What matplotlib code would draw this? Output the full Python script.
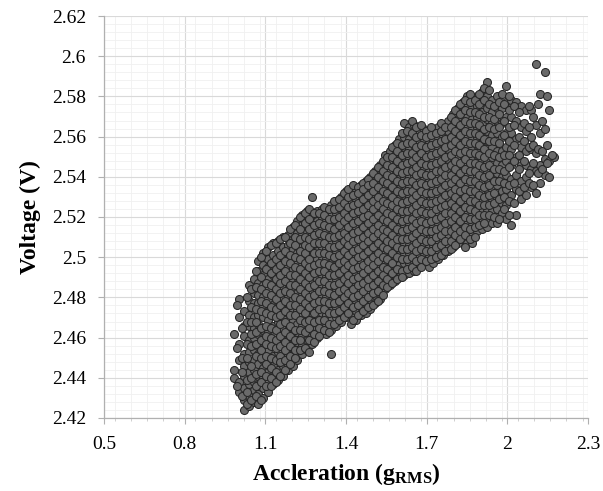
import numpy as np
import matplotlib.pyplot as plt
from matplotlib.ticker import MultipleLocator

# acceleration (gRMS) of each column of points
accel_cols = [0.984, 1.003, 1.020, 1.039, 1.057, 1.074, 1.093, 1.110, 1.129, 1.146,
              1.165, 1.183, 1.202, 1.219, 1.238, 1.256, 1.273, 1.292, 1.310, 1.327,
              1.346, 1.364, 1.382, 1.400, 1.419, 1.436, 1.455, 1.473, 1.490, 1.509,
              1.527, 1.544, 1.562, 1.581, 1.598, 1.617, 1.635, 1.653, 1.671, 1.689,
              1.708, 1.725, 1.744, 1.762, 1.779, 1.798, 1.816, 1.834, 1.852, 1.870,
              1.887, 1.906, 1.923, 1.942, 1.960, 1.979, 1.997, 2.015, 2.034, 2.052,
              2.070, 2.088, 2.106, 2.122, 2.140, 2.157, 2.174]

# voltage of the points in each column, in mV
voltage_cols_mv = [
    [2462, 2444, 2440],
    [2479, 2470, 2457, 2449, 2438, 2433],
    [2473, 2466, 2461, 2452, 2446, 2441, 2435, 2429, 2424],
    [2486, 2478, 2471, 2466, 2459, 2453, 2448, 2443, 2437, 2431, 2426],
    [2489, 2482, 2477, 2470, 2465, 2460, 2454, 2449, 2444, 2438, 2434, 2428],
    [2498, 2493, 2487, 2481, 2477, 2471, 2467, 2462, 2456, 2452, 2447, 2441, 2437, 2432, 2427],
    [2502, 2496, 2491, 2486, 2480, 2475, 2470, 2464, 2460, 2455, 2449, 2445, 2440, 2435, 2430],
    [2505, 2499, 2495, 2489, 2484, 2479, 2473, 2469, 2463, 2458, 2454, 2448, 2443, 2439, 2433],
    [2507, 2501, 2496, 2491, 2487, 2481, 2476, 2471, 2466, 2461, 2456, 2451, 2446, 2441, 2437],
    [2508, 2503, 2499, 2493, 2488, 2484, 2478, 2473, 2468, 2464, 2458, 2453, 2449, 2444, 2439],
    [2510, 2505, 2499, 2495, 2490, 2485, 2480, 2474, 2470, 2465, 2460, 2456, 2450, 2446, 2441],
    [2511, 2506, 2502, 2496, 2491, 2487, 2481, 2477, 2472, 2467, 2462, 2457, 2452, 2447, 2444],
    [2515, 2509, 2504, 2499, 2494, 2489, 2484, 2479, 2474, 2469, 2465, 2460, 2455, 2450, 2446],
    [2518, 2512, 2507, 2502, 2497, 2492, 2487, 2482, 2477, 2473, 2467, 2463, 2458, 2453, 2449],
    [2521, 2516, 2511, 2505, 2500, 2496, 2490, 2486, 2481, 2476, 2471, 2466, 2461, 2457, 2452],
    [2523, 2518, 2513, 2508, 2503, 2498, 2493, 2488, 2484, 2479, 2474, 2469, 2464, 2459, 2454],
    [2530, 2521, 2516, 2511, 2506, 2501, 2497, 2491, 2487, 2482, 2477, 2472, 2467, 2462, 2457],
    [2523, 2518, 2513, 2509, 2503, 2499, 2494, 2489, 2484, 2479, 2475, 2470, 2465, 2460],
    [2524, 2519, 2515, 2510, 2505, 2500, 2496, 2491, 2486, 2481, 2477, 2472, 2467, 2463],
    [2523, 2518, 2513, 2509, 2504, 2499, 2494, 2490, 2485, 2480, 2475, 2471, 2466, 2462],
    [2526, 2521, 2516, 2511, 2507, 2502, 2497, 2492, 2488, 2483, 2478, 2473, 2469, 2464, 2452],
    [2527, 2522, 2518, 2513, 2508, 2503, 2499, 2494, 2489, 2484, 2480, 2475, 2470, 2466],
    [2530, 2524, 2519, 2515, 2510, 2505, 2500, 2496, 2491, 2486, 2482, 2477, 2472, 2468],
    [2533, 2527, 2522, 2517, 2512, 2507, 2503, 2498, 2493, 2488, 2484, 2479, 2474, 2470],
    [2532, 2528, 2523, 2518, 2514, 2509, 2504, 2499, 2495, 2490, 2485, 2481, 2476, 2471, 2467],
    [2534, 2529, 2524, 2520, 2515, 2510, 2506, 2501, 2496, 2492, 2487, 2482, 2478, 2473, 2469],
    [2536, 2531, 2526, 2521, 2517, 2512, 2507, 2503, 2498, 2493, 2489, 2484, 2479, 2475, 2471],
    [2538, 2533, 2528, 2523, 2519, 2514, 2509, 2505, 2500, 2495, 2491, 2486, 2481, 2477, 2472],
    [2540, 2535, 2530, 2526, 2521, 2516, 2511, 2507, 2502, 2497, 2493, 2488, 2483, 2479, 2474],
    [2543, 2538, 2533, 2528, 2523, 2519, 2514, 2509, 2504, 2500, 2495, 2490, 2486, 2481, 2477],
    [2546, 2541, 2536, 2531, 2526, 2522, 2517, 2512, 2507, 2503, 2498, 2493, 2489, 2484, 2479],
    [2551, 2545, 2540, 2535, 2530, 2525, 2520, 2516, 2511, 2506, 2502, 2497, 2492, 2488, 2484],
    [2553, 2548, 2543, 2538, 2533, 2528, 2524, 2519, 2514, 2509, 2505, 2500, 2495, 2491, 2486],
    [2556, 2551, 2546, 2541, 2536, 2531, 2526, 2522, 2517, 2512, 2508, 2503, 2498, 2493, 2488],
    [2559, 2554, 2549, 2544, 2539, 2534, 2529, 2525, 2520, 2515, 2510, 2506, 2501, 2496, 2490],
    [2567, 2560, 2555, 2550, 2545, 2540, 2536, 2531, 2526, 2521, 2516, 2512, 2507, 2502, 2497, 2491],
    [2565, 2559, 2554, 2549, 2545, 2540, 2535, 2530, 2525, 2521, 2516, 2511, 2506, 2502, 2497, 2492],
    [2566, 2561, 2556, 2551, 2546, 2541, 2537, 2532, 2527, 2522, 2517, 2513, 2508, 2503, 2498, 2493],
    [2563, 2558, 2553, 2548, 2544, 2539, 2534, 2529, 2524, 2520, 2515, 2510, 2505, 2501, 2496],
    [2564, 2559, 2555, 2550, 2545, 2540, 2535, 2531, 2526, 2521, 2516, 2512, 2507, 2502, 2497],
    [2562, 2557, 2552, 2548, 2543, 2538, 2533, 2528, 2524, 2519, 2514, 2509, 2505, 2500, 2495],
    [2563, 2558, 2554, 2549, 2544, 2539, 2534, 2530, 2525, 2520, 2515, 2511, 2506, 2501, 2497],
    [2565, 2560, 2555, 2550, 2546, 2541, 2536, 2531, 2527, 2522, 2517, 2512, 2508, 2503, 2499],
    [2566, 2561, 2557, 2552, 2547, 2542, 2538, 2533, 2528, 2523, 2519, 2514, 2509, 2505, 2501],
    [2568, 2563, 2558, 2554, 2549, 2544, 2539, 2535, 2530, 2525, 2520, 2516, 2511, 2506, 2503],
    [2571, 2566, 2561, 2556, 2551, 2547, 2542, 2537, 2532, 2528, 2523, 2518, 2514, 2509, 2505],
    [2574, 2569, 2564, 2559, 2554, 2550, 2545, 2540, 2535, 2531, 2526, 2521, 2516, 2512, 2507],
    [2577, 2572, 2567, 2562, 2557, 2552, 2548, 2543, 2538, 2533, 2529, 2524, 2519, 2514, 2510],
    [2580, 2575, 2570, 2565, 2560, 2555, 2550, 2546, 2541, 2536, 2531, 2527, 2522, 2517, 2512, 2507],
    [2579, 2574, 2569, 2564, 2559, 2554, 2549, 2545, 2540, 2535, 2530, 2526, 2521, 2516, 2512, 2507],
    [2580, 2575, 2570, 2565, 2560, 2556, 2551, 2546, 2541, 2537, 2532, 2527, 2522, 2518, 2513],
    [2582, 2577, 2572, 2567, 2562, 2557, 2552, 2548, 2543, 2538, 2533, 2528, 2524, 2519, 2514],
    [2587, 2580, 2574, 2569, 2563, 2558, 2553, 2548, 2543, 2539, 2534, 2529, 2524, 2519, 2515],
    [2578, 2572, 2567, 2561, 2555, 2550, 2545, 2540, 2534, 2529, 2523, 2517],
    [2580, 2574, 2568, 2562, 2553, 2547, 2542, 2536, 2530, 2524, 2517],
    [2581, 2574, 2567, 2560, 2553, 2546, 2540, 2533, 2527, 2522],
    [2585, 2577, 2570, 2562, 2555, 2548, 2541, 2534, 2526, 2519],
    [2578, 2570, 2562, 2554, 2546, 2539, 2531, 2516],
    [2577, 2568, 2559, 2550, 2541, 2534, 2521],
    [2575, 2565, 2555, 2546, 2538, 2529],
    [2573, 2563, 2553, 2546, 2540, 2531],
    [2573, 2560, 2554, 2544, 2535],
    [2596, 2566, 2552, 2543, 2532],
    [2581, 2562, 2546, 2537],
    [2592, 2564, 2549, 2541],
    [2573, 2548, 2540],
    [2550],
]

# second set of columns lying between the first ones
accel_cols_b = [0.994, 1.012, 1.030, 1.048, 1.066, 1.084, 1.102, 1.120, 1.138, 1.156,
                1.174, 1.192, 1.210, 1.228, 1.246, 1.264, 1.282, 1.300, 1.318, 1.336,
                1.355, 1.373, 1.391, 1.409, 1.427, 1.446, 1.464, 1.482, 1.500, 1.518,
                1.536, 1.553, 1.571, 1.590, 1.608, 1.626, 1.644, 1.662, 1.680, 1.698,
                1.716, 1.734, 1.753, 1.770, 1.789, 1.807, 1.825, 1.843, 1.861, 1.879,
                1.896, 1.914, 1.932, 1.951, 1.969, 1.988, 2.006, 2.024, 2.043, 2.061,
                2.079, 2.097, 2.115, 2.131, 2.148, 2.166]

voltage_cols_b_mv = [
    [2476, 2455, 2436],
    [2465, 2450, 2443, 2431],
    [2480, 2468, 2457, 2450, 2439, 2433, 2427],
    [2484, 2475, 2468, 2462, 2456, 2446, 2440, 2429],
    [2493, 2485, 2474, 2468, 2463, 2457, 2451, 2442, 2436, 2431],
    [2500, 2490, 2484, 2478, 2473, 2465, 2459, 2454, 2450, 2443, 2438, 2429],
    [2503, 2494, 2487, 2482, 2477, 2472, 2466, 2461, 2457, 2451, 2447, 2441, 2436],
    [2506, 2497, 2492, 2486, 2481, 2475, 2471, 2465, 2460, 2456, 2450, 2445, 2440, 2436],
    [2507, 2499, 2494, 2489, 2484, 2479, 2474, 2470, 2464, 2459, 2455, 2449, 2443, 2438],
    [2509, 2501, 2496, 2491, 2487, 2482, 2476, 2471, 2467, 2461, 2456, 2451, 2448, 2441],
    [2510, 2503, 2498, 2493, 2488, 2483, 2478, 2473, 2468, 2463, 2458, 2454, 2449, 2444],
    [2514, 2507, 2501, 2497, 2491, 2486, 2482, 2476, 2471, 2466, 2461, 2456, 2451, 2447],
    [2516, 2510, 2506, 2500, 2495, 2491, 2486, 2480, 2476, 2471, 2464, 2459, 2454, 2450],
    [2520, 2514, 2509, 2503, 2499, 2494, 2489, 2484, 2479, 2474, 2469, 2464, 2459, 2454],
    [2522, 2517, 2510, 2506, 2502, 2497, 2492, 2487, 2482, 2477, 2472, 2468, 2463, 2455],
    [2524, 2519, 2514, 2509, 2505, 2499, 2495, 2490, 2485, 2480, 2475, 2469, 2465, 2459, 2453],
    [2522, 2516, 2511, 2507, 2502, 2496, 2492, 2486, 2481, 2477, 2472, 2468, 2462, 2458],
    [2522, 2517, 2512, 2507, 2502, 2497, 2493, 2488, 2483, 2478, 2474, 2469, 2465, 2461],
    [2525, 2521, 2516, 2511, 2507, 2502, 2497, 2493, 2488, 2483, 2478, 2474, 2469, 2464],
    [2524, 2519, 2515, 2510, 2505, 2501, 2496, 2491, 2486, 2482, 2477, 2472, 2467, 2463],
    [2528, 2524, 2519, 2514, 2510, 2505, 2500, 2495, 2491, 2486, 2481, 2477, 2472, 2467],
    [2529, 2525, 2520, 2516, 2511, 2506, 2501, 2497, 2492, 2487, 2483, 2478, 2473, 2469],
    [2532, 2527, 2522, 2518, 2512, 2508, 2503, 2498, 2494, 2489, 2484, 2480, 2475, 2470],
    [2534, 2530, 2525, 2520, 2515, 2510, 2506, 2501, 2496, 2491, 2487, 2482, 2477, 2472],
    [2536, 2531, 2526, 2522, 2517, 2512, 2508, 2503, 2498, 2494, 2489, 2484, 2480, 2475, 2469],
    [2535, 2532, 2527, 2523, 2518, 2513, 2509, 2504, 2500, 2495, 2490, 2486, 2481, 2476, 2471],
    [2537, 2534, 2529, 2524, 2520, 2515, 2510, 2506, 2501, 2496, 2492, 2487, 2483, 2478, 2473],
    [2539, 2536, 2531, 2526, 2521, 2517, 2512, 2508, 2503, 2498, 2494, 2489, 2485, 2480, 2475],
    [2542, 2537, 2533, 2528, 2524, 2519, 2514, 2510, 2505, 2500, 2496, 2491, 2486, 2482, 2476],
    [2545, 2540, 2535, 2530, 2526, 2521, 2516, 2512, 2507, 2502, 2498, 2493, 2488, 2483, 2478],
    [2548, 2543, 2538, 2533, 2528, 2524, 2519, 2514, 2510, 2505, 2500, 2495, 2491, 2486, 2481],
    [2550, 2546, 2541, 2537, 2532, 2527, 2522, 2518, 2513, 2508, 2504, 2499, 2494, 2489, 2485],
    [2555, 2550, 2545, 2540, 2535, 2530, 2526, 2521, 2516, 2511, 2507, 2502, 2497, 2492, 2487],
    [2557, 2553, 2548, 2543, 2538, 2533, 2528, 2524, 2519, 2514, 2509, 2505, 2500, 2494, 2489],
    [2562, 2556, 2551, 2546, 2542, 2537, 2532, 2527, 2523, 2518, 2513, 2509, 2504, 2499, 2493, 2490],
    [2563, 2557, 2552, 2547, 2543, 2538, 2533, 2528, 2523, 2519, 2514, 2509, 2504, 2499, 2494],
    [2568, 2562, 2557, 2552, 2548, 2543, 2538, 2533, 2529, 2524, 2519, 2515, 2510, 2505, 2500, 2495],
    [2565, 2560, 2555, 2550, 2545, 2541, 2536, 2531, 2526, 2522, 2517, 2512, 2507, 2503, 2498, 2493],
    [2566, 2561, 2556, 2552, 2547, 2542, 2537, 2533, 2528, 2523, 2518, 2514, 2509, 2504, 2499, 2495],
    [2563, 2560, 2555, 2550, 2546, 2541, 2536, 2532, 2527, 2522, 2517, 2513, 2508, 2503, 2498],
    [2565, 2561, 2556, 2551, 2546, 2541, 2537, 2532, 2527, 2522, 2518, 2513, 2508, 2503, 2499],
    [2562, 2557, 2552, 2547, 2543, 2538, 2533, 2528, 2524, 2519, 2514, 2510, 2505, 2500],
    [2567, 2563, 2558, 2553, 2548, 2543, 2539, 2534, 2529, 2525, 2520, 2515, 2511, 2506, 2501],
    [2565, 2559, 2555, 2550, 2545, 2541, 2536, 2531, 2526, 2522, 2517, 2513, 2508, 2503],
    [2570, 2565, 2560, 2556, 2551, 2546, 2541, 2537, 2532, 2527, 2522, 2518, 2513, 2508, 2504],
    [2573, 2568, 2563, 2558, 2553, 2548, 2544, 2539, 2534, 2530, 2525, 2520, 2515, 2511, 2506],
    [2576, 2571, 2566, 2561, 2556, 2552, 2547, 2542, 2537, 2533, 2528, 2523, 2518, 2513, 2509],
    [2578, 2573, 2568, 2563, 2558, 2553, 2549, 2544, 2539, 2534, 2530, 2525, 2520, 2515, 2511, 2505],
    [2581, 2577, 2572, 2567, 2562, 2557, 2552, 2547, 2543, 2538, 2533, 2528, 2524, 2519, 2514, 2509],
    [2578, 2572, 2567, 2562, 2557, 2552, 2547, 2543, 2538, 2533, 2528, 2523, 2519, 2515, 2510],
    [2581, 2576, 2571, 2566, 2561, 2556, 2551, 2546, 2541, 2536, 2531, 2526, 2521, 2516],
    [2584, 2578, 2570, 2564, 2559, 2554, 2550, 2545, 2540, 2535, 2530, 2526, 2521, 2517],
    [2583, 2576, 2570, 2565, 2558, 2552, 2546, 2541, 2536, 2531, 2526, 2521],
    [2575, 2569, 2564, 2558, 2551, 2544, 2538, 2532, 2527, 2520],
    [2577, 2571, 2565, 2557, 2550, 2544, 2538, 2529, 2519],
    [2576, 2568, 2561, 2551, 2543, 2537, 2530, 2524],
    [2580, 2573, 2565, 2558, 2551, 2545, 2536, 2528, 2521],
    [2575, 2566, 2556, 2548, 2537, 2527],
    [2572, 2560, 2551, 2544, 2533],
    [2567, 2558, 2548, 2535],
    [2575, 2565, 2555, 2542, 2537],
    [2570, 2556, 2547, 2536],
    [2576, 2554, 2542],
    [2568, 2553, 2544],
    [2580, 2556, 2547],
    [2551],
]

accel = np.concatenate([[x] * len(v) for x, v in zip(accel_cols, voltage_cols_mv)] +
                       [[x] * len(v) for x, v in zip(accel_cols_b, voltage_cols_b_mv)])
voltage = np.concatenate(voltage_cols_mv + voltage_cols_b_mv) / 1000.0

plt.rcParams['font.family'] = ['Liberation Serif', 'DejaVu Serif']
plt.rcParams['mathtext.fontset'] = 'custom'
plt.rcParams['mathtext.rm'] = 'Liberation Serif'
plt.rcParams['mathtext.bf'] = 'Liberation Serif:bold'

fig = plt.figure(figsize=(6.03, 4.91), dpi=100)
ax = fig.add_axes([0.1725, 0.1487, 0.8025, 0.8187])

ax.scatter(accel, voltage, s=33, facecolor='#6a6a6a', edgecolor='#262626',
           linewidth=0.75, zorder=3)

ax.set_xlim(0.5, 2.3)
ax.set_ylim(2.42, 2.62)
ax.xaxis.set_minor_locator(MultipleLocator(0.06))
ax.yaxis.set_minor_locator(MultipleLocator(0.004))
ax.set_xticks(np.arange(0.5, 2.31, 0.3))
ax.set_xticklabels(['0.5', '0.8', '1.1', '1.4', '1.7', '2', '2.3'])
ax.set_yticks(np.arange(2.42, 2.621, 0.02))
ax.set_yticklabels(['2.42', '2.44', '2.46', '2.48', '2.5', '2.52', '2.54',
                    '2.56', '2.58', '2.6', '2.62'])

ax.grid(which='major', color='#d9d9d9', linewidth=0.8, zorder=0)
ax.grid(which='minor', color='#f0f0f0', linewidth=0.6, zorder=0)
ax.set_axisbelow(True)

for side in ['top', 'right']:
    ax.spines[side].set_visible(False)
for side in ['left', 'bottom']:
    ax.spines[side].set_color('#b0b0b0')
    ax.spines[side].set_linewidth(0.9)

ax.tick_params(axis='both', which='major', length=4, color='#b0b0b0',
               labelsize=14, pad=9)
ax.tick_params(axis='y', which='minor', length=0)
ax.tick_params(axis='x', which='minor', length=2.5, color='#c8c8c8')

ax.set_xlabel(r'Accleration ($\mathbf{g_{RMS}}$)', fontsize=17,
              fontweight='bold', labelpad=6)
ax.set_ylabel('Voltage (V)', fontsize=17, fontweight='bold', labelpad=8)

fig.savefig('out.png', dpi=100)
